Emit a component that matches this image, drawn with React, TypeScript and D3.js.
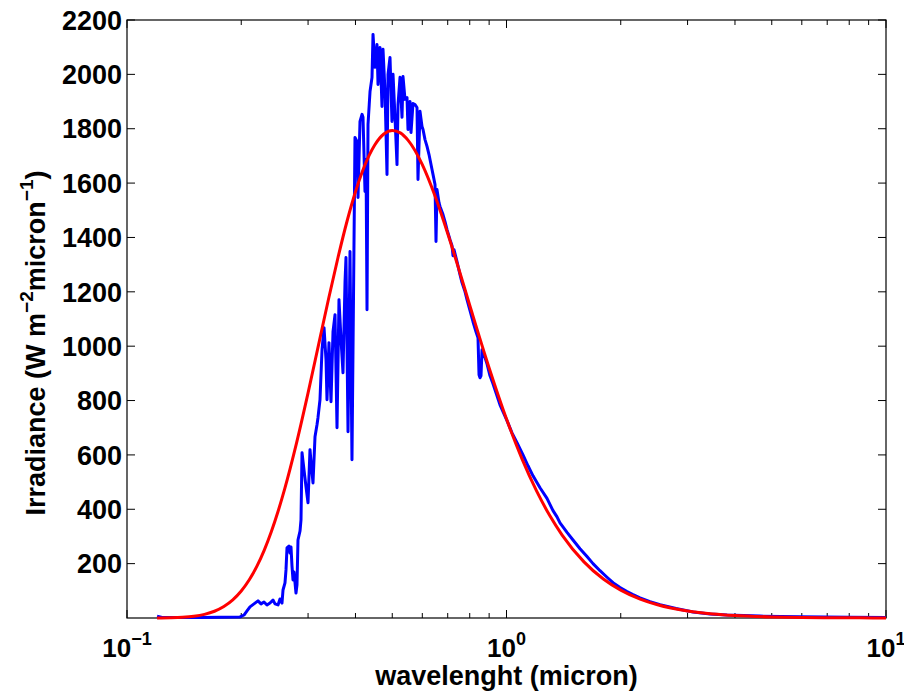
import React from "react";
import * as d3 from "d3";

// Measured solar spectral irradiance (top of atmosphere)
const solarWavelength = [
  0.12, 0.1237, 0.1557, 0.1985, 0.2034, 0.2071, 0.2109, 0.2161, 0.2214, 0.2255,
  0.2296, 0.2338, 0.2381, 0.2425, 0.2455, 0.25, 0.253, 0.2561, 0.2577, 0.2608,
  0.2624, 0.264, 0.2672, 0.2688, 0.2705, 0.2721, 0.2738, 0.2755, 0.2788, 0.2805,
  0.2822, 0.2857, 0.2874, 0.2892, 0.2927, 0.2963, 0.2999, 0.3035, 0.3054, 0.3091,
  0.3129, 0.3167, 0.3186, 0.3225, 0.3265, 0.3305, 0.3345, 0.3365, 0.3406, 0.3448,
  0.349, 0.3533, 0.3576, 0.3619, 0.3664, 0.3708, 0.3754, 0.3776, 0.3823, 0.3869,
  0.3916, 0.3988, 0.4037, 0.4062, 0.4111, 0.4162, 0.4187, 0.4238, 0.4264, 0.429,
  0.4316, 0.4369, 0.4422, 0.4449, 0.4503, 0.4558, 0.4586, 0.4642, 0.4698, 0.4727,
  0.4785, 0.4843, 0.4873, 0.4932, 0.4992, 0.5023, 0.5084, 0.5146, 0.5178, 0.5241,
  0.5305, 0.5337, 0.5402, 0.5468, 0.5501, 0.5569, 0.5602, 0.5671, 0.574, 0.581,
  0.5845, 0.5917, 0.5989, 0.6026, 0.6099, 0.6174, 0.6249, 0.6287, 0.6364, 0.6402,
  0.6481, 0.652, 0.656, 0.664, 0.668, 0.6803, 0.6886, 0.697, 0.7098, 0.7185,
  0.7228, 0.7272, 0.7406, 0.7542, 0.7634, 0.7774, 0.7869, 0.8014, 0.8161, 0.8311,
  0.8412, 0.8464, 0.8515, 0.8567, 0.8619, 0.8724, 0.8885, 0.9048, 0.9214, 0.9383,
  0.9613, 0.9849, 1.003, 1.0339, 1.0658, 1.1053, 1.1393, 1.1744, 1.2254, 1.2785,
  1.326, 1.3586, 1.3835, 1.4436, 1.4971, 1.562, 1.6298, 1.6902, 1.7636, 1.8401,
  1.9083, 1.9911, 2.0775, 2.1545, 2.248, 2.3886, 2.538, 2.797, 3.101, 3.438,
  3.811, 4.655, 5.934, 8.038, 10.0,
];
const solarIrradiance = [
  7, 2, 2, 4, 11, 26, 41, 52, 63, 52,
  59, 48, 55, 66, 52, 48, 70, 55, 103, 129,
  177, 258, 265, 239, 261, 192, 140, 169, 92, 122,
  287, 320, 361, 608, 545, 482, 424, 619, 575, 497,
  667, 711, 737, 803, 987, 1068, 950, 803, 1013, 796,
  1053, 1116, 700, 1171, 1024, 902, 1237, 1326, 685, 1348,
  582, 1768, 1753, 1547, 1827, 1853, 1842, 1569, 1687, 1134,
  1816, 1937, 1989, 2147, 2026, 2110, 1963, 2099, 1882, 2092,
  1937, 1632, 2000, 2062, 1827, 2000, 1842, 1668, 1889, 1989,
  1842, 1992, 1908, 1915, 1797, 1900, 1786, 1893, 1889, 1878,
  1613, 1864, 1808, 1797, 1760, 1735, 1705, 1687, 1650, 1632,
  1595, 1385, 1576, 1528, 1514, 1484, 1458, 1429, 1392, 1370,
  1333, 1355, 1311, 1263, 1234, 1201, 1171, 1131, 1090, 1053,
  1031, 895, 884, 891, 987, 969, 935, 891, 862, 829,
  784, 751, 726, 681, 645, 600, 560, 523, 479, 440,
  395, 372, 350, 315, 287, 255, 226, 200, 174, 150,
  130, 112, 97, 86, 74, 60, 49, 35, 22, 15,
  11, 7, 4.5, 2.5, 1.5,
];

// Blackbody curve (5778 K) at Earth's distance
const bbWavelength = [
  0.12, 0.13, 0.14, 0.15, 0.16, 0.17, 0.18, 0.19, 0.2, 0.21,
  0.22, 0.23, 0.24, 0.25, 0.26, 0.28, 0.3, 0.32, 0.34, 0.36,
  0.38, 0.4, 0.42, 0.45, 0.475, 0.5, 0.525, 0.55, 0.6, 0.65,
  0.7, 0.75, 0.8, 0.9, 1.0, 1.1, 1.2, 1.3, 1.4, 1.6,
  1.8, 2.0, 2.25, 2.5, 3.0, 3.5, 4.0, 5.0, 6.0, 7.0,
  8.5, 10.0,
];
const bbIrradiance = [
  0.3, 1.05, 2.84, 6.58, 13.45, 24.8, 42.1, 66.5, 99.1, 140.5,
  190.8, 249.9, 317.2, 391.7, 472.3, 646.2, 828.1, 1007.7, 1176.5, 1328,
  1459.6, 1568, 1653.8, 1741, 1780.6, 1793.6, 1784.8, 1758, 1668, 1547.8,
  1414.6, 1280.2, 1150.8, 920.2, 732.3, 583.5, 467.4, 376.8, 306.0, 206.5,
  143.4, 102.4, 69.4, 48.6, 25.8, 14.87, 9.16, 4.02, 2.02, 1.13,
  0.536, 0.29,
];

const yTickValues = [200, 400, 600, 800, 1000, 1200, 1400, 1600, 1800, 2000, 2200];
const xDecades = [0.1, 1, 10];
const xDecadeExponents = ["\u22121", "0", "1"];

const WIDTH = 904;
const HEIGHT = 691;
const FONT = "'Liberation Sans', Arial, Helvetica, sans-serif";

export default function App() {
  const x = d3.scaleLog().domain([0.1, 10]).range([127, 886]);
  const y = d3.scaleLinear().domain([0, 2200]).range([618, 20]);

  const solar: [number, number][] = solarWavelength.map((w, i) => [w, solarIrradiance[i]]);
  const blackbody: [number, number][] = bbWavelength.map((w, i) => [w, bbIrradiance[i]]);

  const solarPath = d3
    .line<[number, number]>()
    .x((d) => x(d[0]))
    .y((d) => y(d[1]))(solar);
  const bbPath = d3
    .line<[number, number]>()
    .x((d) => x(d[0]))
    .y((d) => y(d[1]))
    .curve(d3.curveMonotoneX)(blackbody);

  const [x0, x1] = x.range();
  const [yb, yt] = y.range();

  const minorTicks: number[] = [];
  for (const dec of [0.1, 1]) {
    for (let k = 2; k <= 9; k++) minorTicks.push(dec * k);
  }

  const majorLen = 8;
  const minorLen = 5;

  return (
    <div style={{ position: "absolute", left: 0, top: 0 }}>
      <svg width={WIDTH} height={HEIGHT} style={{ display: "block", background: "#fff" }}>
        <rect x={0} y={0} width={WIDTH} height={HEIGHT} fill="#fff" />
        {/* axes box */}
        <rect x={x0} y={yt} width={x1 - x0} height={yb - yt} fill="none" stroke="#000" strokeWidth={1.2} />
        {/* y ticks */}
        {yTickValues.map((v) => (
          <g key={"y" + v}>
            <line x1={x0} x2={x0 + majorLen} y1={y(v)} y2={y(v)} stroke="#000" strokeWidth={1} />
            <line x1={x1} x2={x1 - majorLen} y1={y(v)} y2={y(v)} stroke="#000" strokeWidth={1} />
            <text
              x={x0 - 5}
              y={y(v)}
              dy="0.36em"
              textAnchor="end"
              fontFamily={FONT}
              fontWeight="bold"
              fontSize={27}
              fill="#000"
            >
              {v}
            </text>
          </g>
        ))}
        {/* x major ticks */}
        {xDecades.map((v, i) => (
          <g key={"x" + v}>
            <line x1={x(v)} x2={x(v)} y1={yb} y2={yb - majorLen} stroke="#000" strokeWidth={1} />
            <line x1={x(v)} x2={x(v)} y1={yt} y2={yt + majorLen} stroke="#000" strokeWidth={1} />
            <text
              x={x(v)}
              y={657}
              textAnchor="middle"
              fontFamily={FONT}
              fontWeight="bold"
              fontSize={26}
              fill="#000"
            >
              10
              <tspan fontSize={18} dy={-12}>
                {xDecadeExponents[i]}
              </tspan>
            </text>
          </g>
        ))}
        {/* x minor ticks */}
        {minorTicks.map((v) => (
          <g key={"m" + v}>
            <line x1={x(v)} x2={x(v)} y1={yb} y2={yb - minorLen} stroke="#000" strokeWidth={1} />
            <line x1={x(v)} x2={x(v)} y1={yt} y2={yt + minorLen} stroke="#000" strokeWidth={1} />
          </g>
        ))}
        {/* series */}
        <path d={solarPath ?? ""} fill="none" stroke="#0000ff" strokeWidth={3} strokeLinejoin="round" />
        <path d={bbPath ?? ""} fill="none" stroke="#ff0000" strokeWidth={3} strokeLinejoin="round" />
        {/* axis labels */}
        <text
          x={(x0 + x1) / 2}
          y={685}
          textAnchor="middle"
          fontFamily={FONT}
          fontWeight="bold"
          fontSize={27}
          fill="#000"
        >
          wavelenght (micron)
        </text>
        <text
          transform={`translate(45, 343) rotate(-90)`}
          textAnchor="middle"
          fontFamily={FONT}
          fontWeight="bold"
          fontSize={27}
          fill="#000"
        >
          Irradiance (W m
          <tspan fontSize={19} dy={-12}>
            {"\u22122"}
          </tspan>
          <tspan dy={12}>micron</tspan>
          <tspan fontSize={19} dy={-12}>
            {"\u22121"}
          </tspan>
          <tspan dy={12}>)</tspan>
        </text>
      </svg>
    </div>
  );
}
